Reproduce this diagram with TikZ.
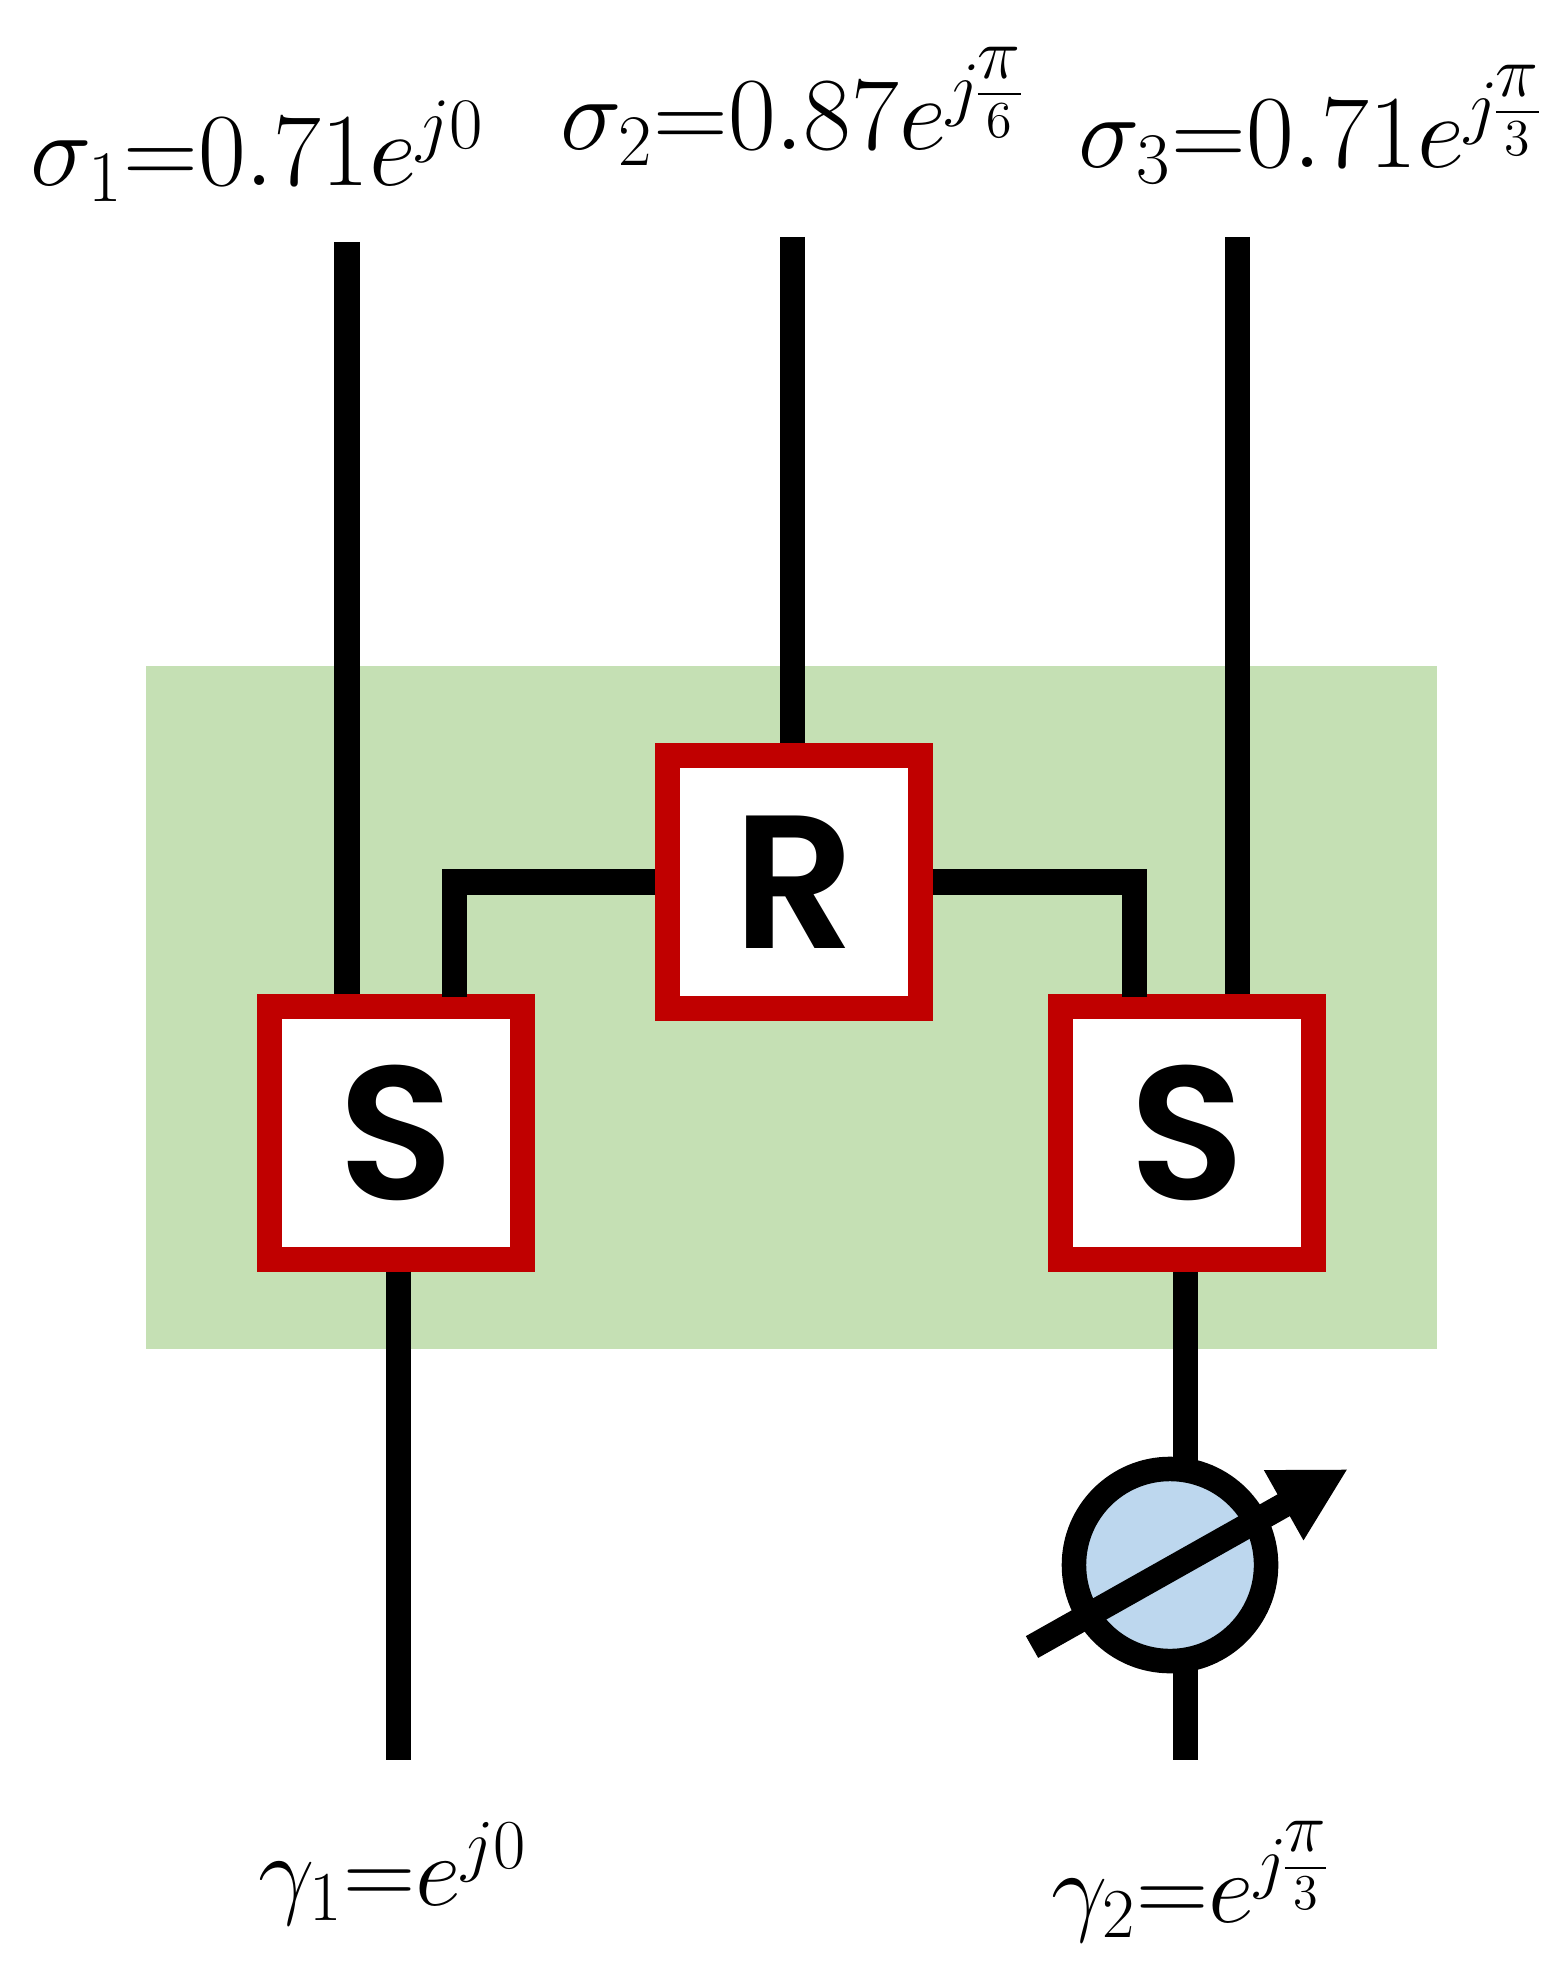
\documentclass[tikz,border=0pt]{standalone}
\usepackage{fix-cm}
\usepackage{fontspec}
\setsansfont{Poppins SemiBold}
\usetikzlibrary{arrows.meta}
\definecolor{bandgreen}{HTML}{C5E0B4}
\definecolor{boxred}{HTML}{C00000}
\definecolor{shifterblue}{HTML}{BDD7EE}
\newcommand{\fracpi}[1]{\mkern-1.5mu\frac{\scriptstyle\pi\rule[-4pt]{0pt}{4pt}}{#1}}
\begin{document}
\begin{tikzpicture}[x=.01cm,y=-.01cm,
	wire/.style={line width=.25cm},
	coupler/.style={draw=boxred,fill=white,line width=.25cm,minimum size=2.52cm,inner sep=0pt,font=\fontsize{54}{60}\sffamily},
	shifter/.style={draw=black,fill=shifterblue,circle,line width=.245cm,minimum size=1.92cm,inner sep=0pt},
	amp/.style={anchor=base west,inner sep=0pt,font=\fontsize{29.5}{36}\selectfont},
	gain/.style={amp,font=\fontsize{28.5}{36}\selectfont}]

	\useasboundingbox (0,0) rectangle (1567,1977);
	\fill[bandgreen] (146,666) rectangle (1437,1349);

	\node[coupler] (R) at (794,882) {R};
	\node[coupler] (S1) at (396,1133) {S};
	\node[coupler] (S2) at (1187,1133) {S};
	\node[shifter] (PS) at (1170,1565) {};

	\node[amp] (sigA) at (30,186) {$\sigma_1{=}0.71e^{j0}$};
	\node[amp] (sigB) at (560,150) {$\sigma_2{=}0.87e^{j\fracpi{6}}$};
	\node[amp] (sigC) at (1078,168) {$\sigma_3{=}0.71e^{j\fracpi{3}}$};
	\node[gain] (gamA) at (258,1905) {$\gamma_1{=}e^{j0}$};
	\node[gain] (gamB) at (1051,1922) {$\gamma_2{=}e^{j\fracpi{3}}$};

	\coordinate (inA) at (347,242);
	\coordinate (inB) at (792,237);
	\coordinate (inC) at (1237,237);
	\coordinate (tapL) at (454,997);
	\coordinate (tapR) at (1134,997);
	\coordinate (outA) at (398,1760);
	\coordinate (outB) at (1185,1760);
	\coordinate (psTop) at (1185,1470);
	\coordinate (psBot) at (1185,1660);
	\coordinate (knobA) at (1032,1647);
	\coordinate (knobB) at (1348,1469);

	\draw[wire] (inA) -- (inA |- S1.north);
	\draw[wire] (inB) -- (inB |- R.north);
	\draw[wire] (inC) -- (inC |- S2.north);
	\draw[wire] (R.west) -| (tapL);
	\draw[wire] (R.east) -| (tapR);
	\draw[wire] (outA |- S1.south) -- (outA);
	\draw[wire] (psTop |- S2.south) -- (psTop);
	\draw[wire] (psBot) -- (outB);
	\draw[wire,-{Triangle[length=21pt,width=21.3pt]}] (knobA) -- (knobB);

\end{tikzpicture}
\end{document}
